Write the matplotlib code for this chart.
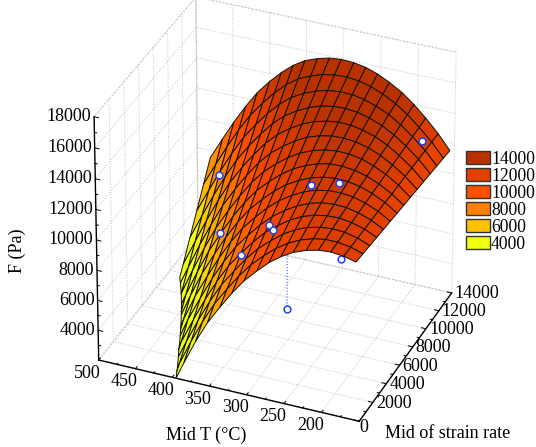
import numpy as np
import matplotlib
matplotlib.use("Agg")
import matplotlib.pyplot as plt
from matplotlib.colors import LinearSegmentedColormap, Normalize
from matplotlib.patches import Patch
from mpl_toolkits.mplot3d import proj3d
from mpl_toolkits.mplot3d.art3d import Poly3DCollection

T_grid = [156, 172, 189, 205, 221, 238, 254, 270, 286, 303, 319, 335, 352, 368, 384, 400, 417, 433, 449, 465, 482]
rate_grid = [0, 1000, 2000, 3000, 4000, 5000, 6000, 7000, 8000, 9000, 10000, 11000, 12000, 13000, 14000]

# one row per T, one column per strain rate
F_grid = [
    [12400, 12340, 12270, 12210, 12140, 12080, 12010, 11950, 11880, 11820, 11750, 11690, 11620, 11560, 11490],
    [12600, 12590, 12580, 12570, 12560, 12550, 12540, 12520, 12510, 12500, 12490, 12480, 12470, 12460, 12440],
    [12680, 12720, 12770, 12810, 12850, 12900, 12940, 12980, 13030, 13070, 13110, 13160, 13200, 13240, 13290],
    [12620, 12720, 12820, 12920, 13020, 13120, 13220, 13310, 13410, 13510, 13610, 13710, 13810, 13910, 14010],
    [12430, 12590, 12740, 12900, 13060, 13210, 13370, 13520, 13680, 13840, 13990, 14150, 14310, 14460, 14620],
    [12110, 12320, 12540, 12750, 12970, 13180, 13400, 13610, 13830, 14040, 14250, 14470, 14680, 14900, 15110],
    [11660, 11930, 12210, 12480, 12750, 13030, 13300, 13580, 13850, 14120, 14400, 14670, 14940, 15220, 15490],
    [11080, 11410, 11750, 12080, 12410, 12750, 13080, 13420, 13750, 14090, 14420, 14750, 15090, 15420, 15760],
    [10360, 10760, 11150, 11550, 11950, 12340, 12740, 13130, 13530, 13930, 14320, 14720, 15110, 15510, 15900],
    [9520, 9980, 10440, 10900, 11350, 11810, 12270, 12730, 13190, 13650, 14100, 14560, 15020, 15480, 15940],
    [8540, 9070, 9590, 10110, 10630, 11160, 11680, 12200, 12720, 13240, 13770, 14290, 14810, 15330, 15860],
    [7440, 8020, 8610, 9200, 9790, 10370, 10960, 11550, 12140, 12720, 13310, 13900, 14490, 15070, 15660],
    [6200, 6850, 7510, 8160, 8810, 9470, 10120, 10770, 11430, 12080, 12730, 13390, 14040, 14700, 15350],
    [4780, 5500, 6220, 6940, 7660, 8380, 9100, 9820, 10550, 11270, 11990, 12710, 13430, 14150, 14870],
    [3180, 3970, 4760, 5550, 6340, 7130, 7920, 8700, 9490, 10280, 11070, 11860, 12650, 13440, 14230],
    [1450, 2310, 3170, 4030, 4880, 5740, 6600, 7460, 8320, 9180, 10040, 10900, 11750, 12610, 13470],
    [-460, 470, 1400, 2320, 3250, 4180, 5110, 6040, 6970, 7900, 8830, 9760, 10690, 11620, 12550],
    [-2560, -1560, -550, 450, 1450, 2450, 3450, 4450, 5450, 6450, 7460, 8460, 9460, 10460, 11460],
    [-4780, -3710, -2630, -1560, -480, 590, 1660, 2740, 3810, 4890, 5960, 7040, 8110, 9180, 10260],
    [-7140, -5990, -4840, -3690, -2540, -1400, -250, 900, 2050, 3200, 4350, 5500, 6640, 7790, 8940],
    [-9620, -8400, -7170, -5950, -4730, -3500, -2280, -1060, 170, 1390, 2610, 3840, 5060, 6280, 7510],
]

# measured points, those on top of the surface and those under it
top_T = [443, 395, 333, 303, 291, 241, 204, 180]
top_rate = [11200, 6300, 2800, 3500, 2800, 2800, 2800, 12400]
top_F = [8400, 7900, 9200, 11100, 11350, 14800, 15300, 12800]
top_fit = [8300, 7760, 9260, 11040, 11240, 12580, 12800, 12750]
under_T = [188, 272]
under_rate = [1400, 2800]
under_F = [11400, 6300]
under_fit = [12700, 11850]

T_ticks = [500, 450, 400, 350, 300, 250, 200]
rate_ticks = [0, 2000, 4000, 6000, 8000, 10000, 12000, 14000]
F_ticks = [4000, 6000, 8000, 10000, 12000, 14000, 16000, 18000]

legend_labels = ["14000", "12000", "10000", "8000", "6000", "4000"]
legend_colors = ["#b83200", "#e23f00", "#ff5000", "#ff8000", "#ffc000", "#eeff10"]

plt.rcParams["font.family"] = "Liberation Serif"
plt.rcParams["font.size"] = 13

floor = 2000


def clip_to_floor(corners):
    # cut one mesh cell where it goes through the floor of the box
    out = []
    for a, b in zip(corners, corners[1:] + corners[:1]):
        if a[2] >= floor:
            out.append(a)
        if (a[2] >= floor) != (b[2] >= floor):
            w = (floor - a[2]) / (b[2] - a[2])
            out.append((a[0] + w*(b[0]-a[0]), a[1] + w*(b[1]-a[1]), floor))
    return out


cmap = LinearSegmentedColormap.from_list("fit", legend_colors[::-1])
norm = Normalize(4000, 14500)

cells = []
cell_colors = []
for i in range(len(T_grid)-1):
    for j in range(len(rate_grid)-1):
        quad = [(T_grid[i], rate_grid[j], F_grid[i][j]),
                (T_grid[i+1], rate_grid[j], F_grid[i+1][j]),
                (T_grid[i+1], rate_grid[j+1], F_grid[i+1][j+1]),
                (T_grid[i], rate_grid[j+1], F_grid[i][j+1])]
        poly = clip_to_floor(quad)
        if len(poly) >= 3:
            cells.append(poly)
            cell_colors.append(cmap(norm(np.mean([q[2] for q in quad]))))

fig = plt.figure(figsize=(5.36, 4.47), dpi=100)
ax = fig.add_axes([0.005, 0.024, 1.0, 1.0], projection="3d", computed_zorder=False)
ax.set_proj_type("persp", focal_length=2.5)
ax.view_init(elev=32.3, azim=-67.3)
ax.set_box_aspect((278, 248, 282), zoom=1.03)

ax.set_xlim(500, 150)
ax.set_ylim(0, 14000)
ax.set_zlim(floor, 18000)

for px, py, pz, pf in zip(under_T, under_rate, under_F, under_fit):
    ax.plot([px, px], [py, py], [pz, pf], color="#3050ff", lw=0.8, ls=":", zorder=1)
ax.scatter(under_T, under_rate, under_F, s=24, facecolor="white", edgecolor="#2040ff",
           linewidth=1.1, depthshade=False, zorder=1)

surface = Poly3DCollection(cells, facecolors=cell_colors, edgecolors="#111111", linewidths=0.7, zorder=2)
ax.add_collection3d(surface)

for px, py, pz, pf in zip(top_T, top_rate, top_F, top_fit):
    ax.plot([px, px], [py, py], [pz, pf], color="#3050ff", lw=0.8, ls=":", zorder=3)
ax.scatter(top_T, top_rate, top_F, s=24, facecolor="white", edgecolor="#2040ff",
           linewidth=1.1, depthshade=False, zorder=4)

ax.set_xticks(T_ticks + [150])
ax.set_yticks(rate_ticks)
ax.set_zticks(F_ticks)
ax.set_xticklabels([])
ax.set_yticklabels([])
ax.set_zticklabels([])

for axis in (ax.xaxis, ax.yaxis, ax.zaxis):
    axis.set_pane_color((1, 1, 1, 1))
    axis.pane.set_edgecolor("#cccccc")
    axis.pane.set_linestyle(":")
    axis.line.set_color("black")
    axis.line.set_linewidth(1.0)
    axis._axinfo["grid"].update(color="#c4c4c4", linewidth=0.7, linestyle=":")
    axis._axinfo["tick"].update(inward_factor=0, outward_factor=0)
ax.zaxis.set_ticks_position("lower")


def label_at(x, y, z, text, dx, dy, ha):
    px, py, _ = proj3d.proj_transform(x, y, z, ax.get_proj())
    ax.annotate(text, (px, py), xytext=(dx, dy), textcoords="offset pixels", ha=ha, va="center", fontsize=13)


# short inward ticks, with the in-between ones
for t in range(500, 149, -25):
    ax.plot([t, t], [0, 220 if t % 50 == 0 else 130], [floor, floor], color="black", lw=0.7)
for r in range(0, 14001, 1000):
    ax.plot([150, 156 if r % 2000 == 0 else 153], [r, r], [floor, floor], color="black", lw=0.7)
for f in range(3000, 18001, 1000):
    ax.plot([500, 494 if f % 2000 == 0 else 497], [0, 0], [f, f], color="black", lw=0.7)

for t in T_ticks:
    label_at(t, 0, floor, str(t), 2, -13, "right")
for i, r in enumerate(rate_ticks):
    label_at(150, r, floor, str(r), 3 if r else 0, -1 if r else -6, "left")
for f in F_ticks:
    label_at(500, 0, f, str(f), -3, 0, "right")

fig.text(0.032, 0.44, "F (Pa)", rotation=90, ha="center", va="center", fontsize=13)
fig.text(0.385, 0.025, "Mid T (°C)", ha="center", va="center", fontsize=13)
fig.text(0.835, 0.03, "Mid of strain rate", ha="center", va="center", fontsize=13)

handles = [Patch(facecolor=c, edgecolor="#333333", linewidth=1) for c in legend_colors]
fig.legend(handles, legend_labels, loc="center left", bbox_to_anchor=(0.869, 0.549), frameon=False,
           fontsize=12.7, handlelength=1.35, handleheight=0.72, handletextpad=0.08, labelspacing=0.0,
           borderpad=0, borderaxespad=0)

fig.savefig("out.png", dpi=100)
